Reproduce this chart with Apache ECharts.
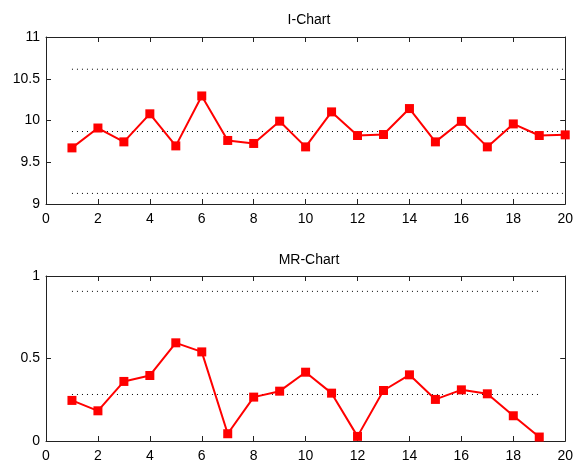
<!DOCTYPE html>
<html>
<head>
<meta charset="utf-8">
<script src="https://cdn.jsdelivr.net/npm/echarts@6/dist/echarts.min.js"></script>
<style>
  html, body { margin: 0; padding: 0; background: #fff; }
  #chart { width: 576px; height: 463px; }
</style>
</head>
<body>
<div id="chart"></div>
<script>
// Individual observations (I-Chart), samples 1..20
const samples = [1, 2, 3, 4, 5, 6, 7, 8, 9, 10, 11, 12, 13, 14, 15, 16, 17, 18, 19, 20];
const individuals = [9.672, 9.91, 9.744, 10.08, 9.696, 10.294, 9.761, 9.725, 9.992, 9.684,
                     10.103, 9.82, 9.832, 10.143, 9.744, 9.99, 9.684, 9.959, 9.82, 9.828];
// Moving ranges (MR-Chart), samples 1..19
const mrSamples = [1, 2, 3, 4, 5, 6, 7, 8, 9, 10, 11, 12, 13, 14, 15, 16, 17, 18, 19];
const movingRanges = [0.246, 0.183, 0.361, 0.397, 0.595, 0.54, 0.044, 0.266, 0.302, 0.417,
                      0.29, 0.028, 0.306, 0.401, 0.252, 0.31, 0.286, 0.153, 0.024];
// Control limits: [UCL, CL, LCL]
const iLimits = [10.614, 9.868, 9.127];
const mrLimits = [0.907, 0.282];
// Axis tick settings
const xTicks = { min: 0, max: 20, interval: 2 };
const iTicks = { min: 9, max: 11, interval: 0.5 };
const mrTicks = { min: 0, max: 1, interval: 0.5 };
const titles = ['I-Chart', 'MR-Chart'];

const FONT = 'Liberation Sans, Arial, sans-serif';
const AXIS_COLOR = '#222';
const TEXT_COLOR = '#000';
const RED = '#ff0000';

const chart = echarts.init(document.getElementById('chart'), null, { renderer: 'canvas' });

function fmt(v) {
  return String(Math.round(v * 100) / 100);
}

function xAxisPair(gridIndex) {
  const base = {
    type: 'value', gridIndex: gridIndex,
    min: xTicks.min, max: xTicks.max, interval: xTicks.interval,
    axisLine: { show: true, onZero: false, lineStyle: { color: AXIS_COLOR, width: 1 } },
    axisTick: { show: true, inside: true, length: 5, lineStyle: { color: AXIS_COLOR } },
    splitLine: { show: false }
  };
  return [
    Object.assign({}, base, {
      position: 'bottom',
      axisLabel: { show: true, color: TEXT_COLOR, fontFamily: FONT, fontSize: 14, margin: 8, formatter: fmt }
    }),
    Object.assign({}, base, { position: 'top', axisLabel: { show: false } })
  ];
}

function yAxisPair(gridIndex, t) {
  const base = {
    type: 'value', gridIndex: gridIndex,
    min: t.min, max: t.max, interval: t.interval,
    axisLine: { show: true, onZero: false, lineStyle: { color: AXIS_COLOR, width: 1 } },
    axisTick: { show: true, inside: true, length: 5, lineStyle: { color: AXIS_COLOR } },
    splitLine: { show: false }
  };
  return [
    Object.assign({}, base, {
      position: 'left',
      axisLabel: { show: true, color: TEXT_COLOR, fontFamily: FONT, fontSize: 14, margin: 6, formatter: fmt }
    }),
    Object.assign({}, base, { position: 'right', axisLabel: { show: false } })
  ];
}

function limitSeries(value, xStart, xEnd, xi, yi) {
  return {
    type: 'line', xAxisIndex: xi, yAxisIndex: yi,
    data: [[xStart, value], [xEnd, value]],
    symbol: 'none', silent: true, animation: false,
    lineStyle: { color: '#000', width: 1, type: [1, 4] },
    z: 1
  };
}

function dataSeries(xs, ys, xi, yi) {
  return {
    type: 'line', xAxisIndex: xi, yAxisIndex: yi,
    data: xs.map((x, i) => [x, ys[i]]),
    symbol: 'rect', symbolSize: 9,
    itemStyle: { color: RED },
    lineStyle: { color: RED, width: 2 },
    animation: false, z: 3
  };
}

const series = [];
iLimits.forEach(v => series.push(limitSeries(v, samples[0], samples[samples.length - 1], 0, 0)));
series.push(dataSeries(samples, individuals, 0, 0));
mrLimits.forEach(v => series.push(limitSeries(v, mrSamples[0], mrSamples[mrSamples.length - 1], 2, 2)));
series.push(dataSeries(mrSamples, movingRanges, 2, 2));

chart.setOption({
  backgroundColor: '#fff',
  animation: false,
  title: [
    { text: titles[0], left: 304, top: 8, textAlign: 'center',
      textStyle: { fontFamily: FONT, fontSize: 14, fontWeight: 'normal', color: TEXT_COLOR } },
    { text: titles[1], left: 304, top: 248, textAlign: 'center',
      textStyle: { fontFamily: FONT, fontSize: 14, fontWeight: 'normal', color: TEXT_COLOR } }
  ],
  grid: [
    { left: 46, right: 9, top: 37, height: 167, containLabel: false },
    { left: 46, right: 9, top: 276, height: 168, containLabel: false }
  ],
  xAxis: [].concat(xAxisPair(0), xAxisPair(1)),
  yAxis: [].concat(yAxisPair(0, iTicks), yAxisPair(1, mrTicks)),
  series: series
});
</script>
</body>
</html>
